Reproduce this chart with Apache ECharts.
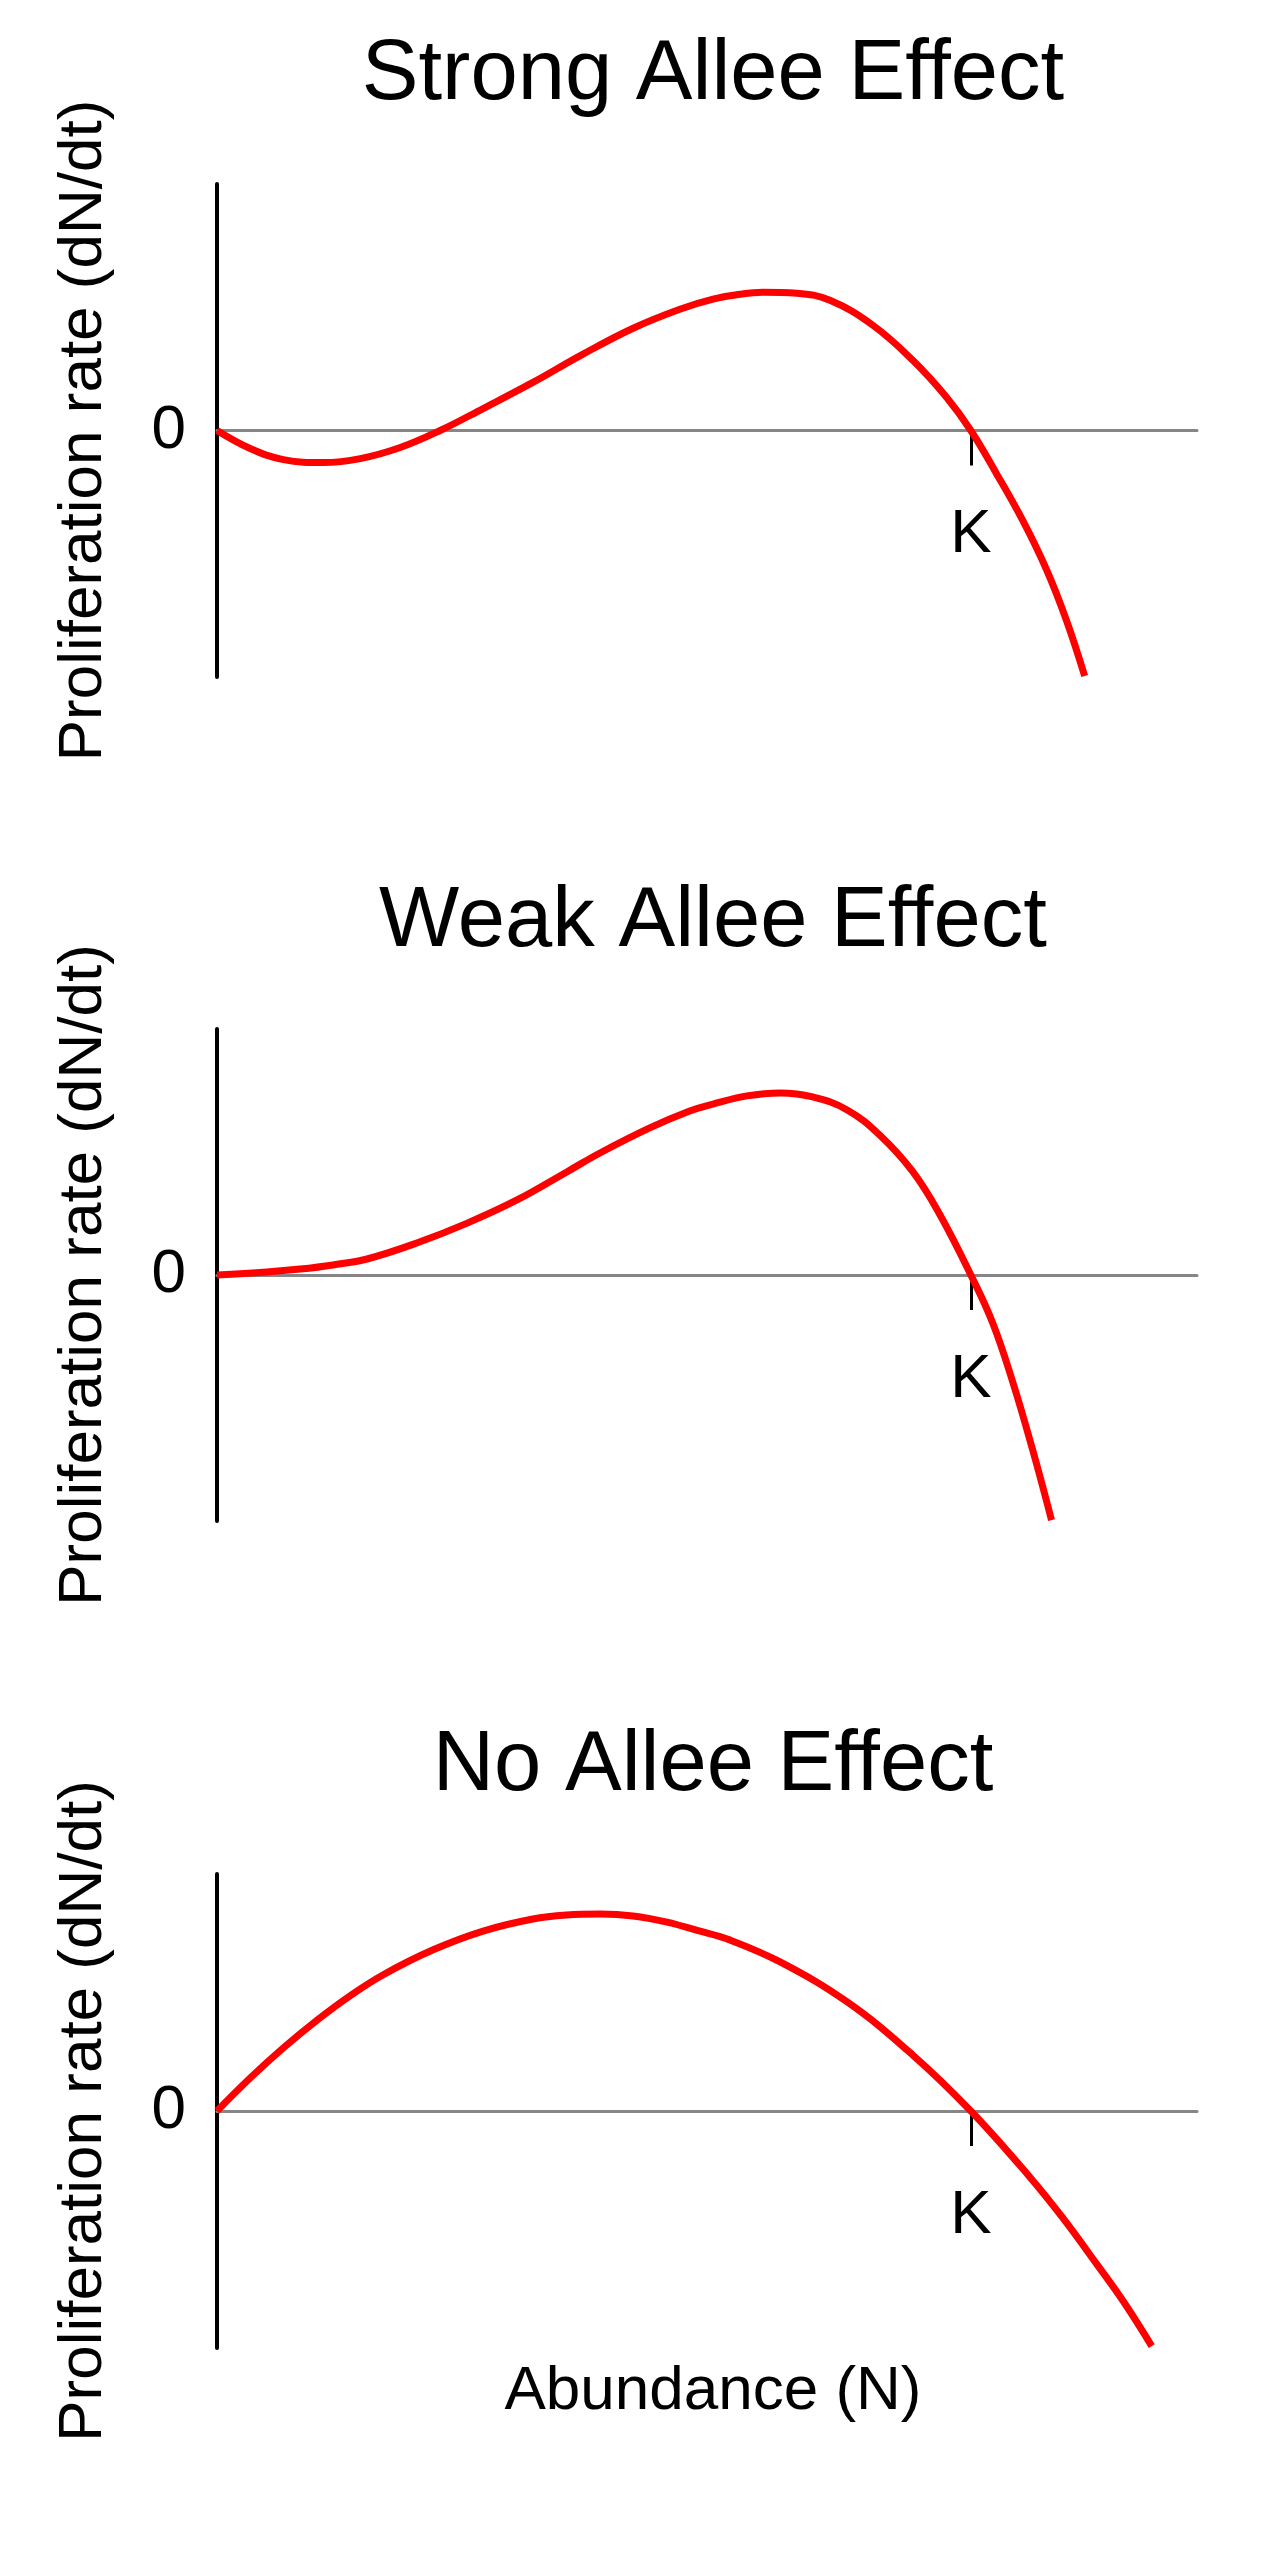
<!DOCTYPE html>
<html>
<head>
<meta charset="utf-8">
<title>Allee Effect</title>
<script src="https://cdn.jsdelivr.net/npm/echarts@6/dist/echarts.min.js"></script>
<style>
    body { margin: 0; background: #fff; }
    #chart { width: 1280px; height: 2560px; }
</style>
</head>
<body>
<div id="chart"></div>
<script>
// abundance N (carrying capacity K = 1) and proliferation rate dN/dt (axis ends = +-1)
const strongN = [0, 0.044, 0.088, 0.141, 0.190, 0.243, 0.296, 0.353, 0.419, 0.485, 0.552, 0.614, 0.658, 0.694, 0.724, 0.769, 0.813, 0.870, 0.923, 0.968, 1.0, 1.034, 1.069, 1.101, 1.127, 1.151];
const strongRate = [0, -0.073, -0.118, -0.130, -0.114, -0.069, 0, 0.089, 0.195, 0.309, 0.415, 0.492, 0.533, 0.553, 0.561, 0.557, 0.528, 0.427, 0.285, 0.134, 0, -0.175, -0.366, -0.569, -0.772, -0.996];

const weakN = [0, 0.066, 0.110, 0.154, 0.199, 0.265, 0.332, 0.398, 0.464, 0.508, 0.574, 0.627, 0.658, 0.703, 0.747, 0.790, 0.836, 0.879, 0.923, 0.959, 1.0, 1.029, 1.056, 1.082, 1.107];
const weakRate = [0, 0.012, 0.024, 0.041, 0.065, 0.130, 0.211, 0.305, 0.419, 0.496, 0.598, 0.667, 0.695, 0.728, 0.740, 0.724, 0.671, 0.569, 0.420, 0.245, 0, -0.195, -0.439, -0.711, -0.996];

const noneN = [0, 0.044, 0.088, 0.133, 0.176, 0.220, 0.286, 0.353, 0.419, 0.464, 0.508, 0.552, 0.597, 0.637, 0.680, 0.747, 0.836, 0.923, 1.0, 1.077, 1.121, 1.167, 1.202, 1.240];
const noneRate = [0, 0.139, 0.266, 0.384, 0.485, 0.574, 0.679, 0.759, 0.810, 0.827, 0.831, 0.823, 0.797, 0.762, 0.722, 0.629, 0.460, 0.236, 0, -0.274, -0.447, -0.646, -0.802, -0.992];

const panelTitles = ['Strong Allee Effect', 'Weak Allee Effect', 'No Allee Effect'];
const xName = 'Abundance (N)';
const yName = 'Proliferation rate (dN/dt)';
const kValue = 1;
const kTicks = [kValue];
const zeroTicks = [0];

const FONT = 'Liberation Sans, Arial, Helvetica, sans-serif';

function pairs(xs, ys) {
    let out = [];
    for (let i = 0; i < xs.length; i++) {
        out.push([xs[i], ys[i]]);
    }
    return out;
}

const curves = [
    pairs(strongN, strongRate),
    pairs(weakN, weakRate),
    pairs(noneN, noneRate),
];

// one grid per panel
const grids = [
    { left: 217, width: 980, top: 184, height: 493 },
    { left: 217, width: 980, top: 1029, height: 492 },
    { left: 217, width: 980, top: 1874, height: 474 },
];
const titleTops = [28, 875, 1719];

let titles = [];
let xAxes = [];
let yAxes = [];
let series = [];

for (let i = 0; i < 3; i++) {
    titles.push({
        text: panelTitles[i],
        left: 708,
        textAlign: 'center',
        top: titleTops[i],
        textStyle: {
            fontFamily: FONT,
            fontSize: 85,
            fontWeight: 'normal',
            color: '#000'
        }
    });

    xAxes.push({
        gridIndex: i,
        type: 'value',
        min: 0,
        max: 1.3,
        axisLine: { show: true, onZero: true, lineStyle: { color: '#868686', width: 3 } },
        axisTick: { show: true, customValues: kTicks, length: 35, lineStyle: { color: '#000', width: 3 } },
        axisLabel: { show: false },
        splitLine: { show: false }
    });

    yAxes.push({
        gridIndex: i,
        type: 'value',
        min: -1,
        max: 1,
        name: yName,
        nameLocation: 'middle',
        nameRotate: 90,
        nameGap: 102,
        nameTextStyle: { fontFamily: FONT, fontSize: 62, color: '#000' },
        axisLine: { show: true, onZero: false, lineStyle: { color: '#000', width: 4 } },
        axisTick: { show: false },
        axisLabel: {
            show: true,
            customValues: zeroTicks,
            formatter: () => '0',
            margin: 31,
            fontFamily: FONT,
            fontSize: 62,
            color: '#000'
        },
        splitLine: { show: false }
    });

    series.push({
        type: 'line',
        xAxisIndex: i,
        yAxisIndex: i,
        data: curves[i],
        showSymbol: false,
        smooth: 0.4,
        lineStyle: { color: '#ff0000', width: 7 },
        z: 3,
        // K label sits under the tick on the zero line
        markPoint: {
            silent: true,
            symbol: 'circle',
            symbolSize: 1,
            itemStyle: { color: 'rgba(0,0,0,0)' },
            label: {
                show: true,
                position: 'bottom',
                distance: 73,
                formatter: 'K',
                fontFamily: FONT,
                fontSize: 62,
                color: '#000'
            },
            data: [{ coord: [kValue, 0] }]
        }
    });
}

// x axis title under the last panel
titles.push({
    text: xName,
    left: 708,
    textAlign: 'center',
    top: 2356,
    textStyle: {
        fontFamily: FONT,
        fontSize: 62,
        fontWeight: 'normal',
        color: '#000'
    }
});

const chart = echarts.init(document.getElementById('chart'));
chart.setOption({
    animation: false,
    backgroundColor: '#fff',
    title: titles,
    grid: grids,
    xAxis: xAxes,
    yAxis: yAxes,
    series: series
});
</script>
</body>
</html>
